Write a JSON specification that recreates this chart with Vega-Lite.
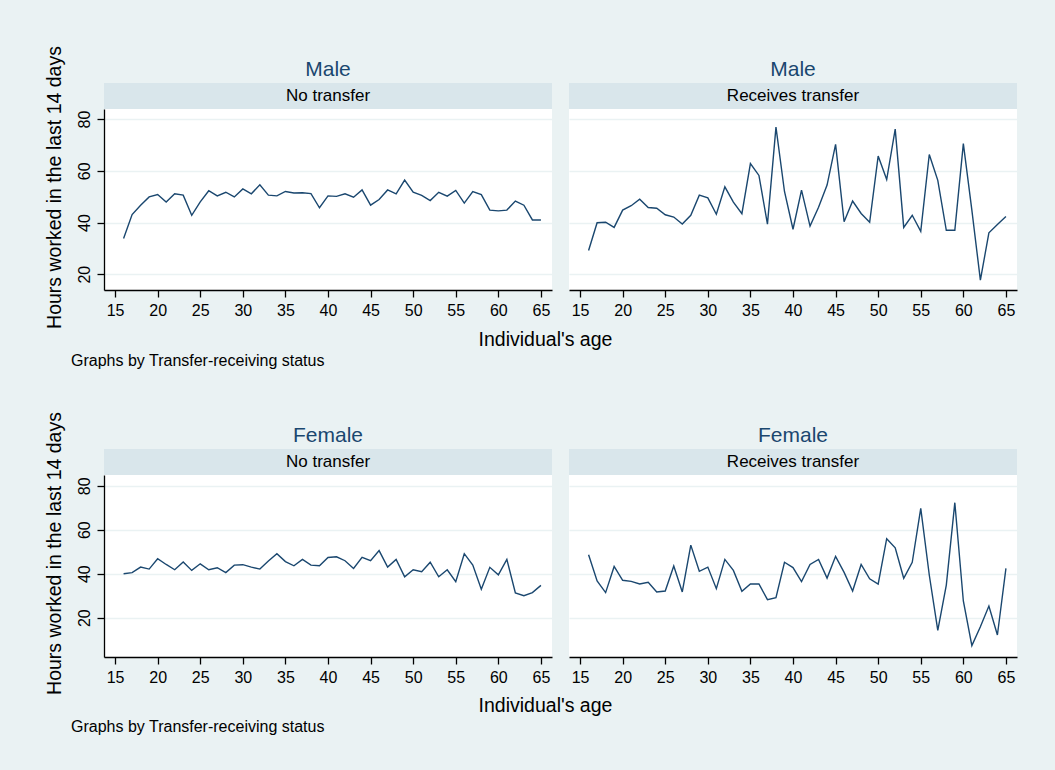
{
  "$schema": "https://vega.github.io/schema/vega-lite/v6.json",
  "background": "#EAF2F3",
  "padding": {"left": 43, "top": 45, "right": 39, "bottom": 47},
  "datasets": {
    "male_no": [
      {"age":16,"hours":33.8},{"age":17,"hours":43.1},{"age":18,"hours":46.7},{"age":19,"hours":49.9},{"age":20,"hours":50.8},
      {"age":21,"hours":47.9},{"age":22,"hours":51.1},{"age":23,"hours":50.6},{"age":24,"hours":42.8},{"age":25,"hours":48.0},
      {"age":26,"hours":52.3},{"age":27,"hours":50.3},{"age":28,"hours":51.7},{"age":29,"hours":49.9},{"age":30,"hours":53.0},
      {"age":31,"hours":51.1},{"age":32,"hours":54.6},{"age":33,"hours":50.6},{"age":34,"hours":50.3},{"age":35,"hours":52.0},
      {"age":36,"hours":51.4},{"age":37,"hours":51.5},{"age":38,"hours":51.2},{"age":39,"hours":45.7},{"age":40,"hours":50.3},
      {"age":41,"hours":50.1},{"age":42,"hours":51.1},{"age":43,"hours":49.8},{"age":44,"hours":52.6},{"age":45,"hours":46.7},
      {"age":46,"hours":48.9},{"age":47,"hours":52.6},{"age":48,"hours":51.1},{"age":49,"hours":56.4},{"age":50,"hours":51.7},
      {"age":51,"hours":50.5},{"age":52,"hours":48.5},{"age":53,"hours":51.7},{"age":54,"hours":50.2},{"age":55,"hours":52.4},
      {"age":56,"hours":47.5},{"age":57,"hours":52.0},{"age":58,"hours":50.8},{"age":59,"hours":44.8},{"age":60,"hours":44.5},
      {"age":61,"hours":44.8},{"age":62,"hours":48.3},{"age":63,"hours":46.7},{"age":64,"hours":41.0},{"age":65,"hours":41.0}
    ],
    "male_yes": [
      {"age":16,"hours":29.2},{"age":17,"hours":39.9},{"age":18,"hours":40.1},{"age":19,"hours":38.1},{"age":20,"hours":44.8},
      {"age":21,"hours":46.5},{"age":22,"hours":49.0},{"age":23,"hours":45.8},{"age":24,"hours":45.5},{"age":25,"hours":43.0},
      {"age":26,"hours":42.1},{"age":27,"hours":39.4},{"age":28,"hours":42.8},{"age":29,"hours":50.6},{"age":30,"hours":49.5},
      {"age":31,"hours":43.2},{"age":32,"hours":53.8},{"age":33,"hours":47.9},{"age":34,"hours":43.4},{"age":35,"hours":62.8},
      {"age":36,"hours":58.2},{"age":37,"hours":39.4},{"age":38,"hours":76.9},{"age":39,"hours":52.0},{"age":40,"hours":37.4},
      {"age":41,"hours":52.5},{"age":42,"hours":38.6},{"age":43,"hours":45.9},{"age":44,"hours":54.5},{"age":45,"hours":70.2},
      {"age":46,"hours":40.3},{"age":47,"hours":48.3},{"age":48,"hours":43.5},{"age":49,"hours":40.1},{"age":50,"hours":65.7},
      {"age":51,"hours":56.6},{"age":52,"hours":76.1},{"age":53,"hours":38.1},{"age":54,"hours":42.8},{"age":55,"hours":36.6},
      {"age":56,"hours":66.3},{"age":57,"hours":56.3},{"age":58,"hours":37.0},{"age":59,"hours":37.0},{"age":60,"hours":70.5},
      {"age":61,"hours":44.8},{"age":62,"hours":17.7},{"age":63,"hours":36.0},{"age":64,"hours":39.2},{"age":65,"hours":42.3}
    ],
    "female_no": [
      {"age":16,"hours":40.0},{"age":17,"hours":40.5},{"age":18,"hours":43.0},{"age":19,"hours":42.1},{"age":20,"hours":46.8},
      {"age":21,"hours":44.2},{"age":22,"hours":41.8},{"age":23,"hours":45.3},{"age":24,"hours":41.5},{"age":25,"hours":44.5},
      {"age":26,"hours":41.8},{"age":27,"hours":42.7},{"age":28,"hours":40.5},{"age":29,"hours":43.9},{"age":30,"hours":44.1},
      {"age":31,"hours":43.0},{"age":32,"hours":42.1},{"age":33,"hours":45.8},{"age":34,"hours":49.1},{"age":35,"hours":45.5},
      {"age":36,"hours":43.6},{"age":37,"hours":46.5},{"age":38,"hours":43.9},{"age":39,"hours":43.6},{"age":40,"hours":47.4},
      {"age":41,"hours":47.7},{"age":42,"hours":45.9},{"age":43,"hours":42.4},{"age":44,"hours":47.4},{"age":45,"hours":45.9},
      {"age":46,"hours":50.5},{"age":47,"hours":43.0},{"age":48,"hours":46.5},{"age":49,"hours":38.6},{"age":50,"hours":41.8},
      {"age":51,"hours":40.9},{"age":52,"hours":45.2},{"age":53,"hours":38.6},{"age":54,"hours":41.8},{"age":55,"hours":36.4},
      {"age":56,"hours":49.1},{"age":57,"hours":43.9},{"age":58,"hours":32.9},{"age":59,"hours":42.9},{"age":60,"hours":39.5},
      {"age":61,"hours":46.5},{"age":62,"hours":31.2},{"age":63,"hours":30.0},{"age":64,"hours":31.4},{"age":65,"hours":34.7}
    ],
    "female_yes": [
      {"age":16,"hours":48.6},{"age":17,"hours":36.7},{"age":18,"hours":31.4},{"age":19,"hours":43.3},{"age":20,"hours":37.0},
      {"age":21,"hours":36.5},{"age":22,"hours":35.3},{"age":23,"hours":36.1},{"age":24,"hours":31.7},{"age":25,"hours":32.1},
      {"age":26,"hours":43.5},{"age":27,"hours":31.7},{"age":28,"hours":53.0},{"age":29,"hours":41.1},{"age":30,"hours":43.0},
      {"age":31,"hours":33.2},{"age":32,"hours":46.5},{"age":33,"hours":41.5},{"age":34,"hours":32.0},{"age":35,"hours":35.3},
      {"age":36,"hours":35.3},{"age":37,"hours":28.2},{"age":38,"hours":29.1},{"age":39,"hours":45.2},{"age":40,"hours":42.8},
      {"age":41,"hours":36.4},{"age":42,"hours":44.2},{"age":43,"hours":46.5},{"age":44,"hours":38.0},{"age":45,"hours":47.9},
      {"age":46,"hours":40.6},{"age":47,"hours":32.1},{"age":48,"hours":44.2},{"age":49,"hours":37.7},{"age":50,"hours":35.3},
      {"age":51,"hours":55.9},{"age":52,"hours":51.8},{"age":53,"hours":37.9},{"age":54,"hours":45.2},{"age":55,"hours":69.7},
      {"age":56,"hours":39.4},{"age":57,"hours":14.2},{"age":58,"hours":34.8},{"age":59,"hours":72.3},{"age":60,"hours":27.6},
      {"age":61,"hours":7.3},{"age":62,"hours":15.9},{"age":63,"hours":25.3},{"age":64,"hours":12.1},{"age":65,"hours":42.4}
    ]
  },
  "vconcat": [
    {
      "title": {"text": "Graphs by Transfer-receiving status", "orient": "bottom", "anchor": "start", "fontSize": 16, "fontWeight": "normal", "color": "#000000", "dx": 27, "offset": 3},
      "vconcat": [
        {
          "spacing": 17,
          "title": {"text": "Individual's age", "orient": "bottom", "anchor": "middle", "fontSize": 19.5, "fontWeight": "normal", "color": "#000000", "dx": 15, "offset": 3},
          "hconcat": [
            {
              "bounds": "flush", "spacing": 0,
              "vconcat": [
                {
                  "width": 448, "height": 26,
                  "title": {"text": "Male", "fontSize": 21, "color": "#1a476f", "fontWeight": "normal", "offset": 3},
                  "data": {"values": [{"label": "No transfer"}]},
                  "mark": {"type": "text", "fontSize": 17, "color": "#000000"},
                  "encoding": {"text": {"field": "label", "type": "nominal"}},
                  "view": {"fill": "#D9E6EB", "stroke": null}
                },
                {
                  "width": 448, "height": 181,
                  "data": {"name": "male_no"},
                  "mark": {"type": "line", "color": "#1a476f", "strokeWidth": 1.4},
                  "encoding": {
                    "x": {"field": "age", "type": "quantitative", "scale": {"domain": [13.7, 66.3], "nice": false, "zero": false},
                          "axis": {"values": [15,20,25,30,35,40,45,50,55,60,65], "grid": false, "title": null}},
                    "y": {"field": "hours", "type": "quantitative", "scale": {"domain": [13.9, 83.9], "nice": false, "zero": false},
                          "axis": {"values": [20,40,60,80], "grid": true, "labelAngle": 270, "title": "Hours worked in the last 14 days", "titleY": 78, "titlePadding": 12}}
                  }
                }
              ]
            },
            {
              "bounds": "flush", "spacing": 0,
              "vconcat": [
                {
                  "width": 448, "height": 26,
                  "title": {"text": "Male", "fontSize": 21, "color": "#1a476f", "fontWeight": "normal", "offset": 3},
                  "data": {"values": [{"label": "Receives transfer"}]},
                  "mark": {"type": "text", "fontSize": 17, "color": "#000000"},
                  "encoding": {"text": {"field": "label", "type": "nominal"}},
                  "view": {"fill": "#D9E6EB", "stroke": null}
                },
                {
                  "width": 448, "height": 181,
                  "data": {"name": "male_yes"},
                  "mark": {"type": "line", "color": "#1a476f", "strokeWidth": 1.4},
                  "encoding": {
                    "x": {"field": "age", "type": "quantitative", "scale": {"domain": [13.7, 66.3], "nice": false, "zero": false},
                          "axis": {"values": [15,20,25,30,35,40,45,50,55,60,65], "grid": false, "title": null}},
                    "y": {"field": "hours", "type": "quantitative", "scale": {"domain": [13.9, 83.9], "nice": false, "zero": false},
                          "axis": {"values": [20,40,60,80], "grid": true, "labels": false, "ticks": false, "domain": false, "title": null}}
                  }
                }
              ]
            }
          ]
        }
      ]
    },
    {
      "title": {"text": "Graphs by Transfer-receiving status", "orient": "bottom", "anchor": "start", "fontSize": 16, "fontWeight": "normal", "color": "#000000", "dx": 27, "offset": 3},
      "vconcat": [
        {
          "spacing": 17,
          "title": {"text": "Individual's age", "orient": "bottom", "anchor": "middle", "fontSize": 19.5, "fontWeight": "normal", "color": "#000000", "dx": 15, "offset": 3},
          "hconcat": [
            {
              "bounds": "flush", "spacing": 0,
              "vconcat": [
                {
                  "width": 448, "height": 26,
                  "title": {"text": "Female", "fontSize": 21, "color": "#1a476f", "fontWeight": "normal", "offset": 3},
                  "data": {"values": [{"label": "No transfer"}]},
                  "mark": {"type": "text", "fontSize": 17, "color": "#000000"},
                  "encoding": {"text": {"field": "label", "type": "nominal"}},
                  "view": {"fill": "#D9E6EB", "stroke": null}
                },
                {
                  "width": 448, "height": 182,
                  "data": {"name": "female_no"},
                  "mark": {"type": "line", "color": "#1a476f", "strokeWidth": 1.4},
                  "encoding": {
                    "x": {"field": "age", "type": "quantitative", "scale": {"domain": [13.7, 66.3], "nice": false, "zero": false},
                          "axis": {"values": [15,20,25,30,35,40,45,50,55,60,65], "grid": false, "title": null}},
                    "y": {"field": "hours", "type": "quantitative", "scale": {"domain": [2.1, 84.9], "nice": false, "zero": false},
                          "axis": {"values": [20,40,60,80], "grid": true, "labelAngle": 270, "title": "Hours worked in the last 14 days", "titleY": 78, "titlePadding": 12}}
                  }
                }
              ]
            },
            {
              "bounds": "flush", "spacing": 0,
              "vconcat": [
                {
                  "width": 448, "height": 26,
                  "title": {"text": "Female", "fontSize": 21, "color": "#1a476f", "fontWeight": "normal", "offset": 3},
                  "data": {"values": [{"label": "Receives transfer"}]},
                  "mark": {"type": "text", "fontSize": 17, "color": "#000000"},
                  "encoding": {"text": {"field": "label", "type": "nominal"}},
                  "view": {"fill": "#D9E6EB", "stroke": null}
                },
                {
                  "width": 448, "height": 182,
                  "data": {"name": "female_yes"},
                  "mark": {"type": "line", "color": "#1a476f", "strokeWidth": 1.4},
                  "encoding": {
                    "x": {"field": "age", "type": "quantitative", "scale": {"domain": [13.7, 66.3], "nice": false, "zero": false},
                          "axis": {"values": [15,20,25,30,35,40,45,50,55,60,65], "grid": false, "title": null}},
                    "y": {"field": "hours", "type": "quantitative", "scale": {"domain": [2.1, 84.9], "nice": false, "zero": false},
                          "axis": {"values": [20,40,60,80], "grid": true, "labels": false, "ticks": false, "domain": false, "title": null}}
                  }
                }
              ]
            }
          ]
        }
      ]
    }
  ],
  "spacing": 42,
  "config": {
    "font": "Liberation Sans, Arial, sans-serif",
    "view": {"stroke": null, "fill": "#ffffff"},
    "axis": {
      "labelFont": "Liberation Sans, Arial, sans-serif",
      "titleFont": "Liberation Sans, Arial, sans-serif",
      "labelFontSize": 16, "titleFontSize": 19.5, "titleFontWeight": "normal",
      "labelColor": "#000000", "titleColor": "#000000",
      "domainColor": "#000000", "tickColor": "#000000", "domainWidth": 1.3, "tickWidth": 1.3,
      "tickSize": 7, "labelPadding": 5,
      "gridColor": "#EAF2F3", "gridWidth": 1.5
    },
    "title": {"font": "Liberation Sans, Arial, sans-serif"},
    "text": {"font": "Liberation Sans, Arial, sans-serif"}
  }
}
